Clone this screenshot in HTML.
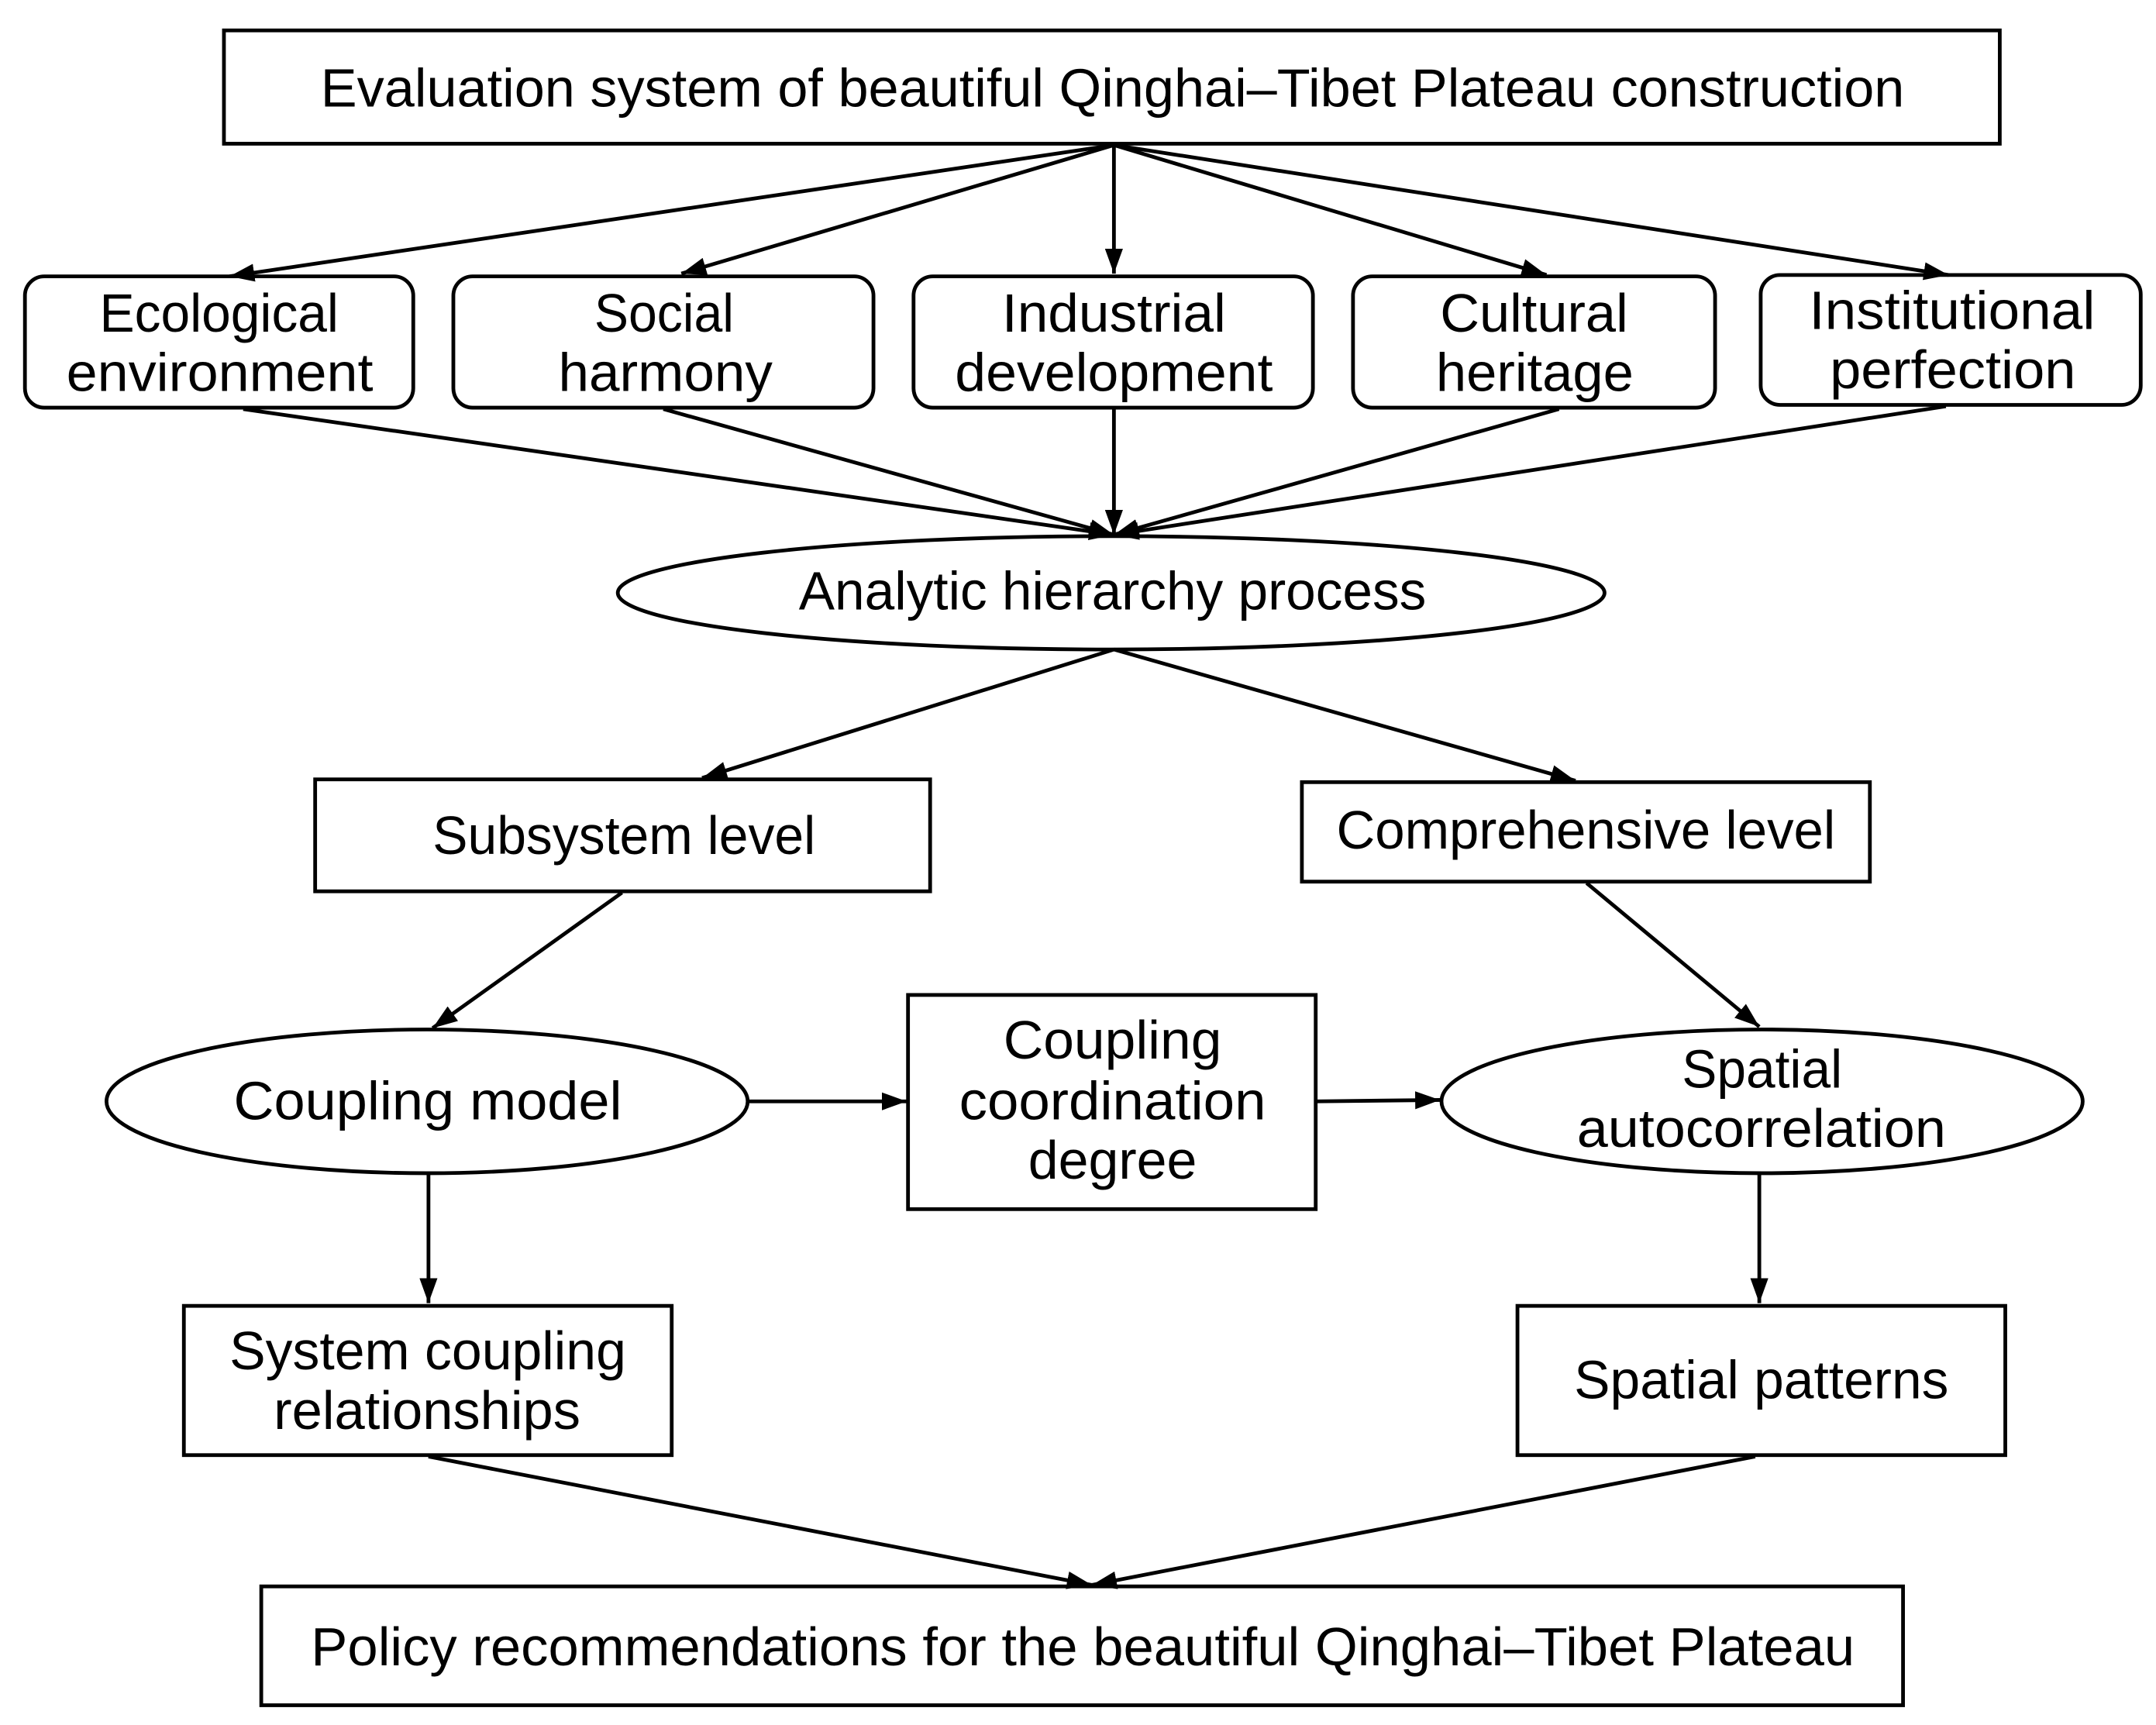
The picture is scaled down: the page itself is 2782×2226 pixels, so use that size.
<!DOCTYPE html>
<html><head><meta charset="utf-8"><style>html,body{margin:0;padding:0;background:#fff}svg{display:block}</style></head>
<body>
<svg xmlns="http://www.w3.org/2000/svg" width="2782" height="2226" viewBox="0 0 1560 1248.3">
<defs>
<marker id="a" viewBox="0 0 18 13" refX="18" refY="6.5" markerWidth="18" markerHeight="13" markerUnits="userSpaceOnUse" orient="auto">
<path d="M0,0 L18,6.5 L0,13 z" fill="#000"/>
</marker>
</defs>
<rect width="1560" height="1248.3" fill="#fff"/>
<g fill="none" stroke="#000" stroke-width="2.7">
<rect x="162" y="22" width="1285" height="82"/>
<rect x="18" y="200" width="281" height="95" rx="14"/>
<rect x="328" y="200" width="304" height="95" rx="14"/>
<rect x="661" y="200" width="289" height="95" rx="14"/>
<rect x="979" y="200" width="262" height="95" rx="14"/>
<rect x="1274" y="199" width="275" height="94" rx="14"/>
<ellipse cx="804" cy="429" rx="357" ry="41"/>
<rect x="228" y="564" width="445" height="81"/>
<rect x="942" y="566" width="411" height="72"/>
<ellipse cx="309" cy="797" rx="232" ry="52"/>
<rect x="657" y="720" width="295" height="155"/>
<ellipse cx="1275" cy="797" rx="232" ry="52"/>
<rect x="133" y="945" width="353" height="108"/>
<rect x="1098" y="945" width="353" height="108"/>
<rect x="189" y="1148" width="1188" height="86"/>
</g>
<g stroke="#000" stroke-width="2.7" marker-end="url(#a)">
<line x1="806" y1="105" x2="166" y2="200"/>
<line x1="806" y1="105" x2="493" y2="198"/>
<line x1="806" y1="105" x2="806" y2="198"/>
<line x1="806" y1="105" x2="1119" y2="199"/>
<line x1="806" y1="105" x2="1410" y2="199"/>
<line x1="176" y1="296" x2="806" y2="387"/>
<line x1="480" y1="296" x2="806" y2="387"/>
<line x1="806" y1="296" x2="806" y2="387"/>
<line x1="1128" y1="296" x2="806" y2="387"/>
<line x1="1408" y1="294" x2="806" y2="387"/>
<line x1="806" y1="470" x2="508" y2="563"/>
<line x1="806" y1="470" x2="1140" y2="565"/>
<line x1="450" y1="646" x2="313" y2="744"/>
<line x1="1148" y1="639" x2="1273" y2="743"/>
<line x1="541" y1="797" x2="656" y2="797"/>
<line x1="952" y1="797" x2="1042" y2="796"/>
<line x1="310" y1="850" x2="310" y2="943"/>
<line x1="1273" y1="850" x2="1273" y2="943"/>
<line x1="310" y1="1054" x2="790" y2="1147"/>
<line x1="1270" y1="1054" x2="790" y2="1147"/>
</g>
<g font-family="Liberation Sans, DejaVu Sans, sans-serif" font-size="39" fill="#000">
<text x="232" y="77" textLength="1146" lengthAdjust="spacingAndGlyphs">Evaluation system of beautiful Qinghai–Tibet Plateau construction</text>
<text x="72" y="240" textLength="173" lengthAdjust="spacingAndGlyphs">Ecological</text>
<text x="48" y="283" textLength="222" lengthAdjust="spacingAndGlyphs">environment</text>
<text x="430" y="240" textLength="101" lengthAdjust="spacingAndGlyphs">Social</text>
<text x="404" y="283" textLength="155" lengthAdjust="spacingAndGlyphs">harmony</text>
<text x="725" y="240" textLength="162" lengthAdjust="spacingAndGlyphs">Industrial</text>
<text x="691" y="283" textLength="230" lengthAdjust="spacingAndGlyphs">development</text>
<text x="1042" y="240" textLength="136" lengthAdjust="spacingAndGlyphs">Cultural</text>
<text x="1039" y="283" textLength="143" lengthAdjust="spacingAndGlyphs">heritage</text>
<text x="1309" y="238" textLength="207" lengthAdjust="spacingAndGlyphs">Institutional</text>
<text x="1324" y="281" textLength="178" lengthAdjust="spacingAndGlyphs">perfection</text>
<text x="578" y="441" textLength="454" lengthAdjust="spacingAndGlyphs">Analytic hierarchy process</text>
<text x="313" y="618" textLength="277" lengthAdjust="spacingAndGlyphs">Subsystem level</text>
<text x="967" y="614" textLength="361" lengthAdjust="spacingAndGlyphs">Comprehensive level</text>
<text x="169" y="810" textLength="281" lengthAdjust="spacingAndGlyphs">Coupling model</text>
<text x="726" y="766" textLength="158" lengthAdjust="spacingAndGlyphs">Coupling</text>
<text x="694" y="810" textLength="222" lengthAdjust="spacingAndGlyphs">coordination</text>
<text x="744" y="853" textLength="122" lengthAdjust="spacingAndGlyphs">degree</text>
<text x="1217" y="787" textLength="116" lengthAdjust="spacingAndGlyphs">Spatial</text>
<text x="1141" y="830" textLength="267" lengthAdjust="spacingAndGlyphs">autocorrelation</text>
<text x="166" y="991" textLength="287" lengthAdjust="spacingAndGlyphs">System coupling</text>
<text x="198" y="1034" textLength="222" lengthAdjust="spacingAndGlyphs">relationships</text>
<text x="1139" y="1012" textLength="271" lengthAdjust="spacingAndGlyphs">Spatial patterns</text>
<text x="225" y="1205" textLength="1117" lengthAdjust="spacingAndGlyphs">Policy recommendations for the beautiful Qinghai–Tibet Plateau</text>
</g>
</svg>
</body></html>
